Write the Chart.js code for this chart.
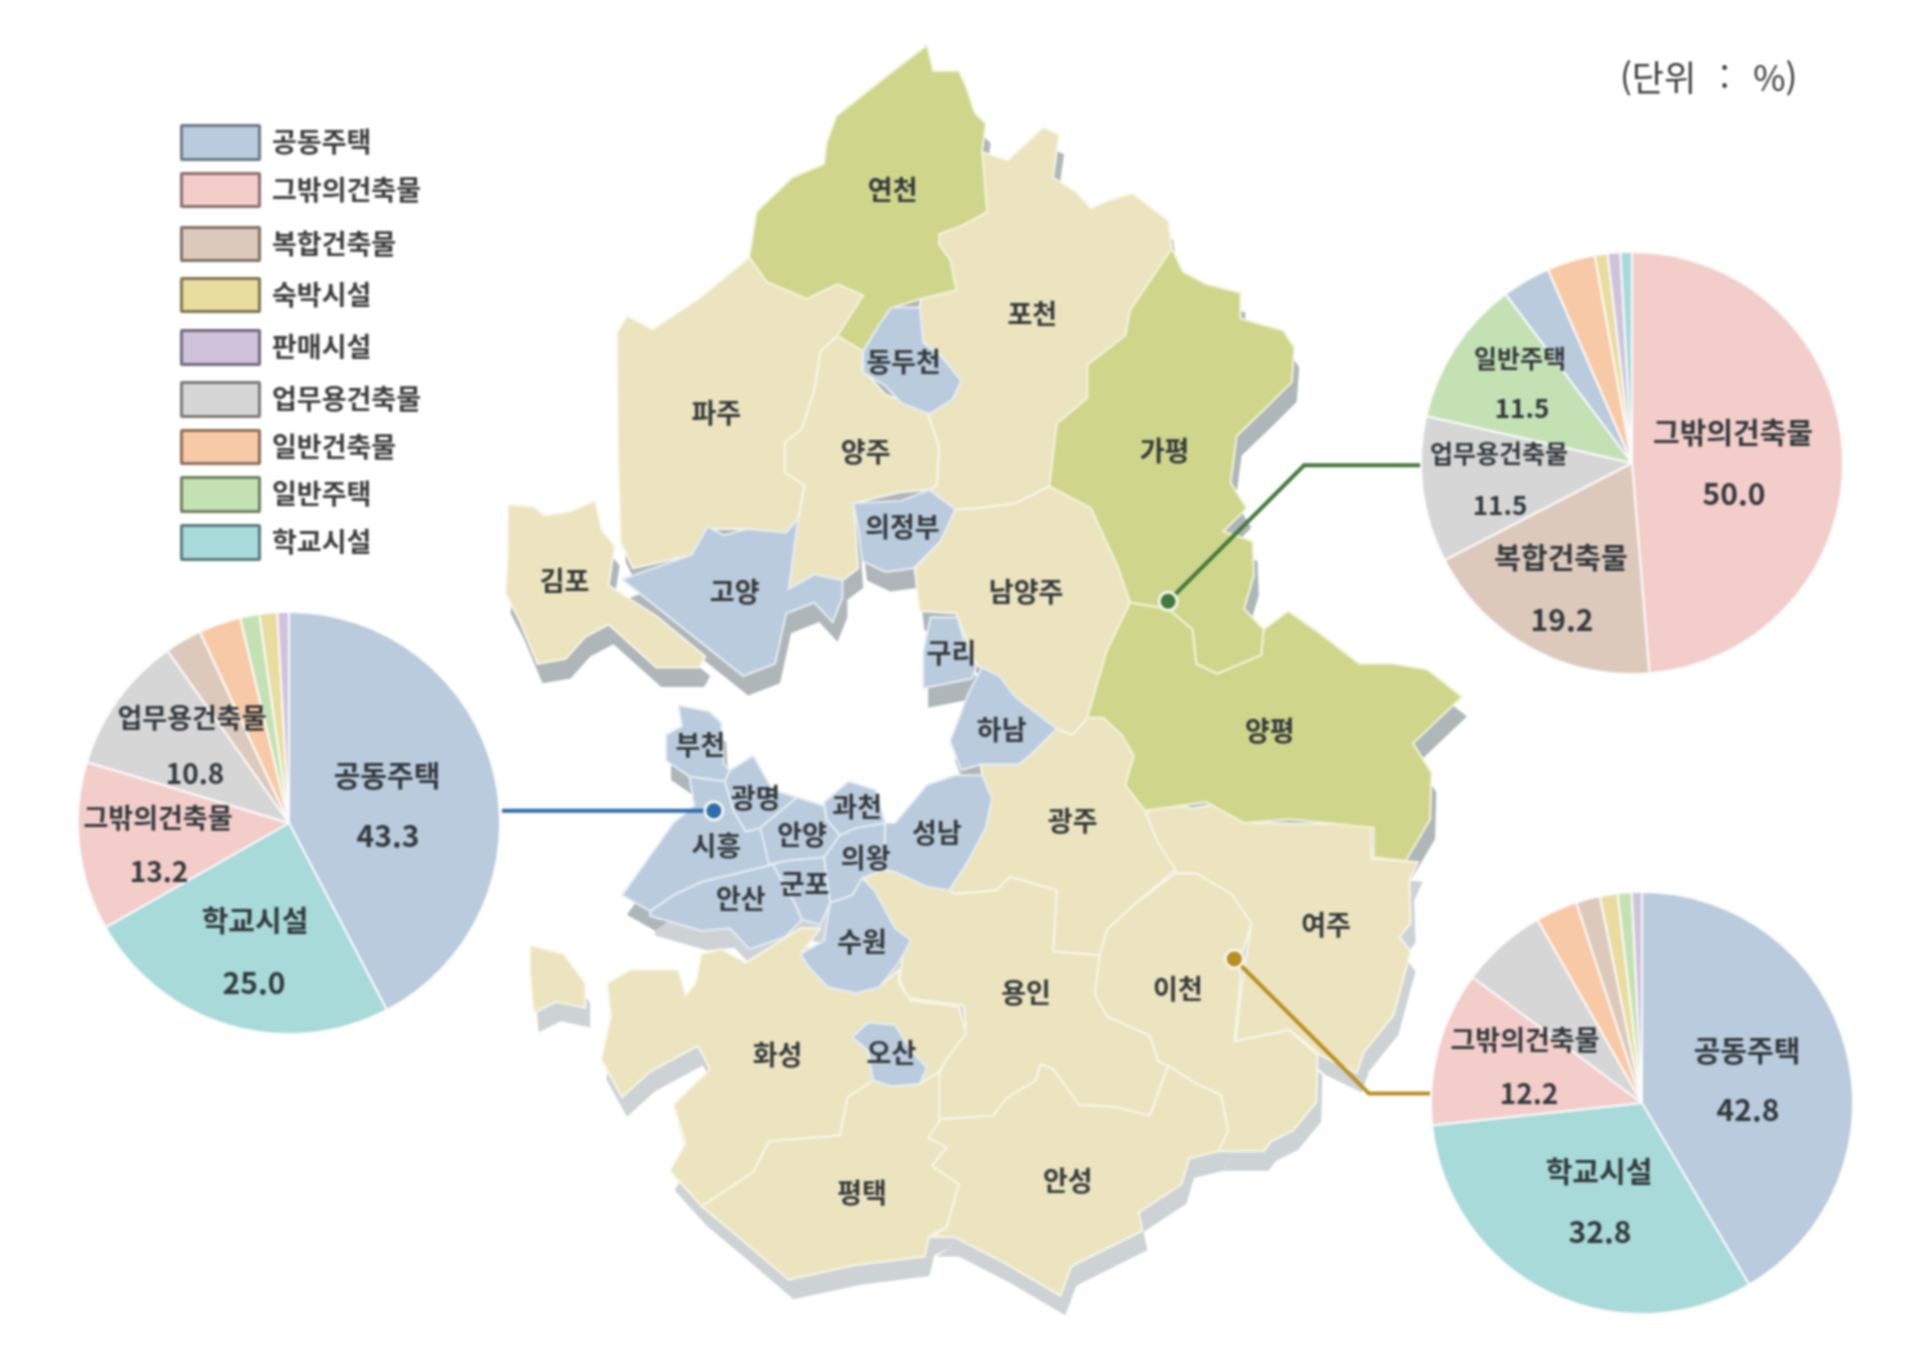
<!DOCTYPE html>
<html lang="ko">
<head>
<meta charset="utf-8">
<title>경기도 시군별 건축물 용도</title>
<script src="https://cdn.jsdelivr.net/npm/chart.js@4"></script>
<style>
  html, body { margin: 0; background: #fff; }
  #page { position: relative; width: 1920px; height: 1352px; overflow: hidden; font-family: "Noto Sans CJK KR", sans-serif; filter: blur(0.9px); }
  canvas { position: absolute; }
  #map { left: 0; top: 0; }
  #unit { position: absolute; left: 1620px; top: 50px; font-size: 35px; color: #3a3a3a; white-space: pre; word-spacing: 2px; }
  .swatch { position: absolute; left: 180px; width: 75px; border-style: solid; border-width: 3px; border-radius: 2px; }
  .legend-text { position: absolute; left: 272px; font-size: 27px; font-weight: 700; color: #3d3d3d; line-height: 30px; white-space: pre; }
</style>
</head>
<body>
<div id="page">
  <canvas id="map" width="1920" height="1352"></canvas>
  <canvas id="pieBlue" width="460" height="460" style="left:59px;top:593px"></canvas>
  <canvas id="pieGreen" width="460" height="460" style="left:1402px;top:233px"></canvas>
  <canvas id="pieGold" width="460" height="460" style="left:1412px;top:873px"></canvas>
  <div id="unit">(단위  :  %)</div>
</div>
<script>
// === legend ===
const buildingTypes = ['공동주택','그밖의건축물','복합건축물','숙박시설','판매시설','업무용건축물','일반건축물','일반주택','학교시설'];
const typeColors = ['#b9cbdd','#f3cdc9','#dcc9bb','#e9dc9f','#cfc3dc','#d6d6d6','#f8c9a6','#c4e1b4','#a7dad9'];
const typeEdges = ['#6c7a86','#8a6f6c','#7f7166','#7f7650','#74697e','#7a7a7a','#8c6f58','#6e8062','#5a7d7c'];
const legendTops = [124,172,226,277,329,381,429,476,524];
const legendHeights = [31,30,30,30,31,31,30,31,31];

// === pies (values in %) ===
const blueCategories = ['공동주택','학교시설','그밖의건축물','업무용건축물','복합건축물','일반건축물','일반주택','숙박시설','판매시설'];
const blueValues = [43.3,25.0,13.2,10.8,2.9,3.3,1.5,1.4,0.9];
const blueNameSpots = [[98,-47],[-34,98],[-131,-5],[-97,-105]];
const blueValueSpots = [[99,13],[-35,160],[-130,48],[-94,-50]];
const blueNameSizes = [29,29,27,27];

const greenCategories = ['그밖의건축물','복합건축물','업무용건축물','일반주택','공동주택','일반건축물','숙박시설','판매시설','학교시설'];
const greenValues = [50.0,19.2,11.5,11.5,3.8,3.8,1.0,1.0,0.9];
const greenNameSpots = [[101,-30],[-71,95],[-133,-10],[-112,-105]];
const greenValueSpots = [[102,31],[-70,157],[-132,42],[-110,-55]];
const greenNameSizes = [29,29,25,25];

const goldCategories = ['공동주택','학교시설','그밖의건축물','업무용건축물','일반건축물','복합건축물','숙박시설','일반주택','판매시설'];
const goldValues = [42.8,32.8,12.2,6.8,3.3,1.9,1.4,1.1,0.8];
const goldNameSpots = [[105,-52],[-43,69],[-117,-63]];
const goldValueSpots = [[106,7],[-42,129],[-113,-10]];
const goldNameSizes = [29,29,27];

// === map labels ===
const regionNames = ['연천','포천','동두천','파주','양주','가평','의정부','김포','고양','남양주','구리','양평','하남','부천','광명','과천','광주','안양','성남','시흥','의왕','군포','안산','여주','수원','이천','용인','화성','오산','안성','평택'];
const regionSpots = [[729,155],[843,256],[738,295],[585,337],[707,369],[951,368],[737,430],[461,474],[600,483],[838,483],[777,533],[1037,597],[818,596],[572,608],[617,651],[700,659],[876,670],[655,682],[765,680],[585,691],[707,700],[657,722],[605,734],[1083,755],[704,769],[962,807],[838,811],[635,861],[728,860],[872,964],[704,974]];

// === map outlines, traced in a 1568x1104 grid ===
const yellowShapes = [
  [[612,210],[626,230],[659,244],[684,232],[705,241],[684,274],[670,287],[665,318],[655,350],[641,361],[641,386],[657,396],[652,423],[642,435],[610,432],[581,432],[565,453],[517,464],[507,443],[505,379],[504,272],[512,258],[533,269],[571,244]],
  [[415,412],[436,414],[445,421],[465,418],[486,409],[491,432],[502,446],[497,478],[536,503],[576,536],[571,545],[536,545],[497,510],[478,520],[462,538],[439,542],[424,506],[413,485],[415,450]],
  [[684,274],[670,287],[665,318],[655,350],[641,361],[641,386],[657,396],[652,423],[644,481],[665,469],[688,474],[701,464],[697,411],[735,402],[759,400],[765,396],[767,365],[757,336],[723,322],[704,301],[705,287]],
  [[802,124],[823,131],[852,104],[865,110],[860,145],[878,156],[891,170],[907,163],[925,158],[954,180],[957,203],[923,253],[919,274],[888,298],[888,325],[863,346],[857,397],[829,411],[797,415],[780,416],[759,400],[765,396],[767,365],[757,336],[778,326],[785,311],[768,290],[754,280],[751,251],[752,244],[781,237],[776,212],[767,200],[767,191],[786,184],[806,173],[804,145]],
  [[780,416],[797,415],[829,411],[857,397],[891,415],[913,463],[923,492],[904,531],[888,586],[876,600],[863,595],[829,569],[801,545],[797,542],[781,501],[751,499],[747,464],[768,442]],
  [[573,779],[589,775],[609,786],[654,758],[670,758],[654,779],[660,789],[676,806],[699,811],[718,806],[734,792],[734,803],[744,817],[783,822],[789,844],[773,865],[767,875],[751,885],[728,887],[713,882],[692,896],[686,927],[628,932],[615,957],[573,985],[547,956],[560,933],[550,902],[580,873],[570,854],[531,875],[508,896],[491,865],[499,830],[496,803],[515,792],[554,792],[560,813],[568,803]],
  [[433,772],[460,779],[478,803],[478,823],[454,818],[436,827],[433,796]],
  [[692,896],[713,882],[728,887],[751,885],[767,875],[767,916],[758,929],[773,937],[761,952],[783,967],[773,1002],[759,1009],[755,1026],[699,1033],[644,1045],[602,1009],[573,985],[615,957],[628,932],[686,927]],
  [[767,914],[811,911],[822,897],[846,882],[850,869],[860,873],[881,902],[910,904],[939,911],[954,870],[977,885],[997,894],[1003,923],[995,940],[971,946],[965,967],[930,990],[933,1005],[875,1034],[866,1058],[820,1031],[779,1010],[761,1010],[773,1002],[783,967],[761,952],[773,937],[758,929]],
  [[779,730],[814,727],[825,716],[863,727],[860,777],[898,780],[894,812],[904,830],[939,846],[946,867],[954,870],[939,911],[910,904],[881,902],[860,873],[850,869],[846,882],[822,897],[811,911],[767,914],[764,888],[773,859],[789,838],[787,821],[741,815],[735,800],[738,774],[744,768],[731,758],[714,727],[705,717],[722,710],[731,712],[757,724],[775,727]],
  [[775,727],[789,706],[805,676],[810,652],[802,633],[801,624],[832,624],[844,614],[863,595],[876,600],[888,586],[901,586],[916,600],[926,617],[919,641],[935,662],[945,687],[960,710],[922,742],[904,759],[898,780],[860,777],[863,727],[825,716],[814,727],[779,730]],
  [[933,666],[948,656],[974,660],[998,656],[1021,672],[1094,673],[1120,675],[1120,701],[1158,704],[1151,719],[1152,754],[1143,765],[1152,777],[1138,829],[1114,859],[1108,876],[1079,862],[1053,841],[1009,850],[1014,806],[1022,754],[1006,730],[977,713],[960,713],[945,687]],
  [[960,713],[977,713],[1006,730],[1022,754],[1014,780],[1012,812],[1008,850],[1053,841],[1076,862],[1075,900],[1056,923],[1038,932],[1032,940],[995,940],[1003,923],[997,894],[977,885],[954,870],[946,867],[939,846],[904,830],[894,812],[898,780],[904,759],[922,742]]
];
const greenShapes = [
  [[757,37],[762,58],[783,58],[789,71],[796,92],[805,101],[802,124],[804,145],[806,173],[786,184],[767,191],[767,200],[776,212],[781,237],[752,244],[730,251],[718,265],[705,287],[684,274],[705,241],[684,232],[659,244],[626,230],[612,210],[618,173],[647,145],[673,134],[675,117],[683,95],[723,63]],
  [[957,203],[966,222],[985,232],[1013,239],[1013,260],[1048,270],[1057,284],[1055,312],[1035,332],[1010,356],[1005,394],[1018,415],[999,434],[1023,442],[1024,470],[1016,497],[1032,514],[1030,535],[994,550],[977,542],[974,514],[954,497],[923,492],[913,463],[891,415],[857,397],[863,346],[888,325],[888,298],[919,274],[923,253]],
  [[923,492],[954,497],[974,514],[977,542],[994,550],[1030,535],[1032,514],[1052,499],[1079,518],[1110,542],[1138,542],[1166,547],[1194,569],[1154,607],[1169,631],[1168,669],[1148,703],[1122,700],[1122,676],[1054,669],[1016,672],[985,655],[935,662],[919,641],[926,617],[916,600],[901,586],[888,586],[904,531]]
];
const blueShapes = [
  [[652,423],[642,435],[610,432],[591,437],[578,430],[565,453],[508,473],[607,552],[633,542],[642,501],[665,492],[680,508],[688,488],[688,474],[665,469],[644,481]],
  [[697,411],[736,409],[759,400],[780,416],[768,442],[746,464],[723,467],[704,458],[701,432]],
  [[728,251],[751,251],[754,280],[768,290],[785,311],[778,326],[759,338],[736,329],[723,315],[705,304],[705,287],[718,265]],
  [[760,504],[782,504],[788,526],[797,545],[794,554],[754,562],[754,532]],
  [[802,545],[816,552],[829,569],[863,595],[844,614],[832,624],[801,624],[785,629],[776,605],[791,566]],
  [[731,672],[757,641],[780,633],[802,633],[810,652],[805,676],[789,706],[775,727],[757,724],[731,712],[722,710],[723,672]],
  [[673,655],[693,638],[715,645],[723,672],[699,676],[686,682],[675,669]],
  [[686,682],[699,676],[723,672],[722,710],[704,717],[696,731],[678,737],[673,700]],
  [[631,706],[641,703],[673,700],[678,737],[670,755],[655,751],[649,737]],
  [[621,676],[651,651],[673,658],[675,669],[686,682],[673,700],[641,703],[628,706]],
  [[596,629],[615,617],[631,645],[651,651],[621,676],[609,679],[599,662],[592,638]],
  [[554,576],[579,581],[589,590],[591,624],[596,629],[592,638],[563,634],[544,621],[544,600],[557,593]],
  [[563,634],[592,638],[599,662],[609,679],[621,676],[631,706],[602,713],[573,720],[550,731],[531,744],[508,731],[528,703],[550,672],[567,658]],
  [[531,744],[550,731],[573,720],[602,713],[631,706],[649,737],[655,751],[641,765],[612,775],[596,758],[573,760],[531,748]],
  [[678,737],[696,731],[704,717],[714,727],[731,758],[744,768],[734,786],[718,806],[699,811],[676,806],[660,789],[654,779],[673,768],[675,755]],
  [[696,847],[709,835],[731,837],[744,858],[757,872],[751,885],[728,887],[713,882],[709,858]]
];

// connector from a pie to its city
const blueLeader = [[410,662],[583,662]];
const greenLeader = [[1160,380],[1065,380],[954,491]];
const goldLeader = [[1168,893],[1118,893],[1008,783]];

const toPoints = pts => pts.map(([x,y]) => ({x,y}));

function shapeDataset(pts, color, edge, dx, dy) {
  const ring = pts.concat([pts[0]]).map(([x,y]) => ({x:x+dx, y:y+dy}));
  return { data: ring, showLine:true, fill:'shape', backgroundColor:color, borderColor:edge, borderWidth:edge==='transparent'?0:2, pointRadius:0, tension:0 };
}
function leaderDatasets(pts, color) {
  const end = pts[pts.length-1];
  return [
    { data: toPoints([end]), showLine:false, pointRadius:9, pointBorderWidth:3, pointBorderColor:'#f4f6ee', pointBackgroundColor:color },
    { data: toPoints(pts), showLine:true, fill:false, borderColor:color, borderWidth:4, pointRadius:0, tension:0 }
  ];
}
// the raised edge is darker in the north of the map than in the south
function shadowColor(pts) {
  return pts[0][1] < 640 ? '#aeb6b9' : '#cdd2d5';
}

// chart.js paints the first dataset last, so the top layer goes first
const allShapes = yellowShapes.concat(greenShapes, blueShapes);
const mapDatasets = [
  ...leaderDatasets(blueLeader, '#2f6dac'),
  ...leaderDatasets(greenLeader, '#43793a'),
  ...leaderDatasets(goldLeader, '#b98f1f'),
  ...blueShapes.map(s => shapeDataset(s, '#b9cbdd', '#e6edf3', 0, 0)),
  ...greenShapes.map(s => shapeDataset(s, '#cfd68b', '#f2f3da', 0, 0)),
  ...yellowShapes.map(s => shapeDataset(s, '#ebe4bf', '#f8f6e8', 0, 0)),
  ...allShapes.map(s => shapeDataset(s, shadowColor(s), 'transparent', 4, 16))
];

const mapLabels = {
  id: 'mapLabels',
  afterDatasetsDraw(chart) {
    const {ctx, scales} = chart;
    ctx.save();
    ctx.font = 'bold 27px "Noto Sans CJK KR"';
    ctx.fillStyle = '#35393b';
    ctx.textAlign = 'center';
    ctx.textBaseline = 'middle';
    regionNames.forEach((name,i) => {
      ctx.fillText(name, scales.x.getPixelForValue(regionSpots[i][0]), scales.y.getPixelForValue(regionSpots[i][1]));
    });
    ctx.restore();
  }
};

new Chart(document.getElementById('map'), {
  type:'scatter',
  data:{ datasets: mapDatasets },
  plugins:[mapLabels],
  options:{
    responsive:false, animation:false, events:[],
    layout:{ padding:0, autoPadding:false },
    scales:{
      x:{ type:'linear', min:0, max:1568, display:false },
      y:{ type:'linear', min:0, max:1104, reverse:true, display:false }
    },
    plugins:{ legend:{display:false}, tooltip:{enabled:false} }
  }
});

function renderPie(el, categories, values, nameSpots, valueSpots, nameSizes) {
  const pieText = {
    id:'pieText',
    afterDatasetsDraw(chart) {
      const {ctx} = chart;
      const arc = chart.getDatasetMeta(0).data[0];
      ctx.save();
      ctx.fillStyle = '#33393d';
      ctx.textAlign = 'center';
      ctx.textBaseline = 'middle';
      nameSpots.forEach((spot,i) => {
        ctx.font = `bold ${nameSizes[i]}px "Noto Sans CJK KR"`;
        ctx.fillText(categories[i], arc.x+spot[0], arc.y+spot[1]);
        ctx.font = `bold ${nameSizes[i]+1}px "Noto Sans CJK KR"`;
        ctx.fillText(values[i].toFixed(1), arc.x+valueSpots[i][0], arc.y+valueSpots[i][1]);
      });
      ctx.restore();
    }
  };
  new Chart(document.getElementById(el), {
    type:'pie',
    data:{ labels:categories, datasets:[{
      data:values,
      backgroundColor:categories.map(c => typeColors[buildingTypes.indexOf(c)]),
      borderColor:'#fbfbfb', borderWidth:2
    }]},
    plugins:[pieText],
    options:{
      responsive:false, animation:false, events:[], radius:211,
      layout:{ padding:0 },
      plugins:{ legend:{display:false}, tooltip:{enabled:false} }
    }
  });
}

renderPie('pieBlue', blueCategories, blueValues, blueNameSpots, blueValueSpots, blueNameSizes);
renderPie('pieGreen', greenCategories, greenValues, greenNameSpots, greenValueSpots, greenNameSizes);
renderPie('pieGold', goldCategories, goldValues, goldNameSpots, goldValueSpots, goldNameSizes);

// legend
const page = document.getElementById('page');
buildingTypes.forEach((name,i) => {
  const box = document.createElement('div');
  box.className = 'swatch';
  box.style.top = legendTops[i]+'px';
  box.style.height = legendHeights[i]+'px';
  box.style.background = typeColors[i];
  box.style.borderColor = typeEdges[i];
  page.appendChild(box);
  const txt = document.createElement('div');
  txt.className = 'legend-text';
  txt.style.top = (legendTops[i]+2)+'px';
  txt.textContent = name;
  page.appendChild(txt);
});
</script>
</body>
</html>
